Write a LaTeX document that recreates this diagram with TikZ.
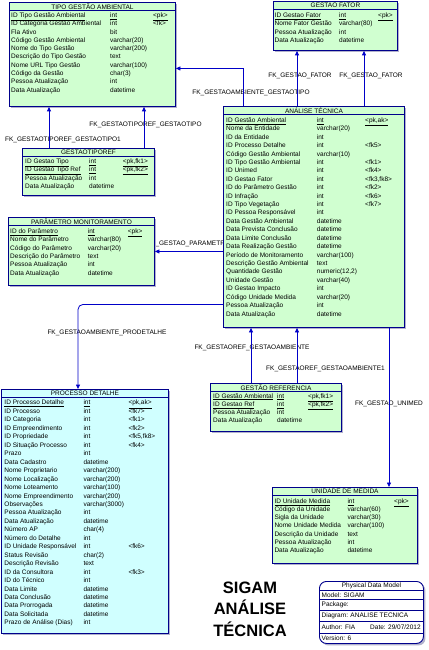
\documentclass[tikz,border=0pt]{standalone}
\usepackage{fontspec}
\setmainfont{Liberation Sans}
\usepackage{tikz}
\usetikzlibrary{arrows.meta,calc,positioning,shadows}
\definecolor{tblgreen}{RGB}{208,255,208}
\definecolor{tblcyan}{RGB}{208,255,255}
\definecolor{tblborder}{RGB}{0,0,140}
\definecolor{tblshadow}{RGB}{178,178,204}
\definecolor{fkline}{RGB}{0,0,200}
\pgfdeclarelayer{paper}
\pgfdeclarelayer{bg}
\pgfsetlayers{paper,bg,main}
\tikzset{
  tblbox/.style={draw=tblborder,line width=0.9pt,fill=#1,inner sep=0pt,
    drop shadow={shadow xshift=2pt,shadow yshift=-2pt,fill=tblshadow,opacity=1}},
  tbltitle/.style={font=\fontsize{6.5}{7}\selectfont,inner sep=0pt},
  tblrow/.style={font=\fontsize{6.5}{7}\selectfont,anchor=west,inner sep=0pt,
    text height=4.7pt,text depth=1.4pt},
  fk/.style={draw=fkline,line width=0.8pt,-{Triangle[length=4.5pt,width=4pt]}},
  fklabel/.style={font=\fontsize{6.5}{7}\selectfont,inner sep=0pt},
  infobox/.style={draw=tblborder,line width=0.9pt,fill=white,rounded corners=7pt,
    drop shadow={shadow xshift=2pt,shadow yshift=-2pt,fill=tblshadow,opacity=1}},
  infotext/.style={font=\fontsize{6.5}{7}\selectfont,inner sep=0pt,anchor=west},
}
% table frame: name, x, y, width, height, title, fill
\newcommand{\erdtable}[7]{%
  \node[tblbox=#7,minimum width=#4pt,minimum height=#5pt,anchor=north west] (#1) at (#2,#3) {};%
  \draw[tblborder,line width=0.7pt] ([yshift=-8.5pt]#1.north west) -- ([yshift=-8.5pt]#1.north east);%
  \node[tbltitle] (#1-title) at ([yshift=-4.5pt]#1.north) {#6};%
}
% columns of the next rows: table, name x, type x, key x, first row y, row step
\newcommand{\erdcols}[6]{\def\erdT{#1}\def\erdA{#2}\def\erdB{#3}\def\erdC{#4}\def\erdTop{#5}\def\erdStep{#6}}
\newcommand{\erdrow}[4]{%
  \pgfmathsetmacro{\erdY}{\erdTop+#1*\erdStep}%
  \node[tblrow] (\erdT-#1-n) at (\erdA,\erdY) {#2};%
  \node[tblrow] (\erdT-#1-t) at (\erdB,\erdY) {#3};%
  \node[tblrow] (\erdT-#1-k) at (\erdC,\erdY) {#4};%
}
\newcommand{\erdpk}[4]{\erdrow{#1}{\underline{#2}}{\underline{#3}}{\underline{#4}}}

\begin{document}
\begin{tikzpicture}[x=1pt,y=-1pt]
  \begin{pgfonlayer}{paper}
    \fill[white] (0,0) rectangle (428,650);
  \end{pgfonlayer}
  \useasboundingbox (0,0) rectangle (428,650);

  \erdtable{tipo}{9}{2}{166}{104}{TIPO GESTÃO AMBIENTAL}{tblgreen}
  \erdcols{tipo}{11}{110}{153}{15.7}{8.33}
  \erdpk{0}{ID Tipo Gestão Ambiental}{int}{<pk>}
  \erdrow{1}{ID Categoria Gestão Ambiental}{int}{<fk>}
  \erdrow{2}{Fla Ativo}{bit}{}
  \erdrow{3}{Código Gestão Ambiental}{varchar(20)}{}
  \erdrow{4}{Nome do Tipo Gestão}{varchar(200)}{}
  \erdrow{5}{Descrição do Tipo Gestão}{text}{}
  \erdrow{6}{Nome URL Tipo Gestão}{varchar(100)}{}
  \erdrow{7}{Código da Gestão}{char(3)}{}
  \erdrow{8}{Pessoa Atualização}{int}{}
  \erdrow{9}{Data Atualização}{datetime}{}

  \erdtable{fator}{273}{1}{124}{49}{GESTAO FATOR}{tblgreen}
  \erdcols{fator}{274.5}{339}{378}{15.7}{8.5}
  \erdpk{0}{ID Gestao Fator}{int}{<pk>}
  \erdrow{1}{Nome Fator Gestão}{varchar(80)}{}
  \erdrow{2}{Pessoa Atualização}{int}{}
  \erdrow{3}{Data Atualização}{datetime}{}

  \erdtable{analise}{223}{106}{181}{221}{ANÁLISE TÉCNICA}{tblgreen}
  \erdcols{analise}{226}{316.7}{365}{120.7}{8.42}
  \erdpk{0}{ID Gestão Ambiental}{int}{<pk,ak>}
  \erdrow{1}{Nome da Entidade}{varchar(20)}{}
  \erdrow{2}{ID da Entidade}{int}{}
  \erdrow{3}{ID Processo Detalhe}{int}{<fk5>}
  \erdrow{4}{Código Gestão Ambiental}{varchar(10)}{}
  \erdrow{5}{ID Tipo Gestão Ambiental}{int}{<fk1>}
  \erdrow{6}{ID Unimed}{int}{<fk4>}
  \erdrow{7}{ID Gestao Fator}{int}{<fk3,fk8>}
  \erdrow{8}{ID do Parâmetro Gestão}{int}{<fk2>}
  \erdrow{9}{ID Infração}{int}{<fk6>}
  \erdrow{10}{ID Tipo Vegetação}{int}{<fk7>}
  \erdrow{11}{ID Pessoa Responsável}{int}{}
  \erdrow{12}{Data Gestão Ambiental}{datetime}{}
  \erdrow{13}{Data Prevista Conclusão}{datetime}{}
  \erdrow{14}{Data Limite Conclusão}{datetime}{}
  \erdrow{15}{Data Realização Gestão}{datetime}{}
  \erdrow{16}{Período de Monitoramento}{varchar(100)}{}
  \erdrow{17}{Descrição Gestão Ambiental}{text}{}
  \erdrow{18}{Quantidade Gestão}{numeric(12,2)}{}
  \erdrow{19}{Unidade Gestão}{varchar(40)}{}
  \erdrow{20}{ID Gestao Impacto}{int}{}
  \erdrow{21}{Código Unidade Medida}{varchar(20)}{}
  \erdrow{22}{Pessoa Atualização}{int}{}
  \erdrow{23}{Data Atualização}{datetime}{}

  \erdtable{tiporef}{22}{148}{132}{47}{GESTAOTIPOREF}{tblgreen}
  \erdcols{tiporef}{25}{89}{122.7}{161.7}{8.5}
  \erdpk{0}{ID Gestao Tipo}{int}{<pk,fk1>}
  \erdpk{1}{ID Gestao Tipo Ref}{int}{<pk,fk2>}
  \erdrow{2}{Pessoa Atualização}{int}{}
  \erdrow{3}{Data Atualização}{datetime}{}

  \erdtable{param}{8}{217}{146}{68}{PARÂMETRO MONITORAMENTO}{tblgreen}
  \erdcols{param}{10}{87.7}{127.7}{231.7}{8.33}
  \erdpk{0}{ID do Parâmetro}{int}{<pk>}
  \erdrow{1}{Nome do Parâmetro}{varchar(80)}{}
  \erdrow{2}{Código do Parâmetro}{varchar(20)}{}
  \erdrow{3}{Descrição do Parâmetro}{text}{}
  \erdrow{4}{Pessoa Atualização}{int}{}
  \erdrow{5}{Data Atualização}{datetime}{}

  \erdtable{procdet}{1}{389}{167}{244}{PROCESSO DETALHE}{tblcyan}
  \erdcols{procdet}{4.3}{83.3}{128.3}{403.3}{8.46}
  \erdpk{0}{ID Processo Detalhe}{int}{<pk,ak>}
  \erdrow{1}{ID Processo}{int}{<fk7>}
  \erdrow{2}{ID Categoria}{int}{<fk1>}
  \erdrow{3}{ID Empreendimento}{int}{<fk2>}
  \erdrow{4}{ID Propriedade}{int}{<fk5,fk8>}
  \erdrow{5}{ID Situação Processo}{int}{<fk4>}
  \erdrow{6}{Prazo}{int}{}
  \erdrow{7}{Data Cadastro}{datetime}{}
  \erdrow{8}{Nome Proprietario}{varchar(200)}{}
  \erdrow{9}{Nome Localização}{varchar(200)}{}
  \erdrow{10}{Nome Loteamento}{varchar(100)}{}
  \erdrow{11}{Nome Empreendimento}{varchar(200)}{}
  \erdrow{12}{Observações}{varchar(3000)}{}
  \erdrow{13}{Pessoa Atualização}{int}{}
  \erdrow{14}{Data Atualização}{datetime}{}
  \erdrow{15}{Número AP}{char(4)}{}
  \erdrow{16}{Número do Detalhe}{int}{}
  \erdrow{17}{ID Unidade Responsável}{int}{<fk6>}
  \erdrow{18}{Status Revisão}{char(2)}{}
  \erdrow{19}{Descrição Revisão}{text}{}
  \erdrow{20}{ID da Consultora}{int}{<fk3>}
  \erdrow{21}{ID do Técnico}{int}{}
  \erdrow{22}{Data Limite}{datetime}{}
  \erdrow{23}{Data Conclusão}{datetime}{}
  \erdrow{24}{Data Prorrogada}{datetime}{}
  \erdrow{25}{Data Solicitada}{datetime}{}
  \erdrow{26}{Prazo de Análise (Dias)}{int}{}

  \erdtable{gref}{210}{383}{131}{48}{GESTÃO REFERENCIA}{tblgreen}
  \erdcols{gref}{213}{277}{308}{396.5}{8.2}
  \erdpk{0}{ID Gestão Ambiental}{int}{<pk,fk1>}
  \erdpk{1}{ID Gestao Ref}{int}{<pk,fk2>}
  \erdrow{2}{Pessoa Atualização}{int}{}
  \erdrow{3}{Data Atualização}{datetime}{}

  \erdtable{unimed}{272}{487}{145}{76}{UNIDADE DE MEDIDA}{tblgreen}
  \erdcols{unimed}{274.3}{347.3}{394}{501.7}{8.2}
  \erdpk{0}{ID Unidade Medida}{int}{<pk>}
  \erdrow{1}{Código da Unidade}{varchar(60)}{}
  \erdrow{2}{Sigla da Unidade}{varchar(30)}{}
  \erdrow{3}{Nome Unidade Medida}{varchar(100)}{}
  \erdrow{4}{Descrição da Unidade}{text}{}
  \erdrow{5}{Pessoa Atualização}{int}{}
  \erdrow{6}{Data Atualização}{datetime}{}

  % references
  \draw[fk] ([xshift=20pt]analise.north west) |- ([yshift=-14pt]tipo.east);
  \draw[fk] ([xshift=74pt]analise.north west) -- ([xshift=24pt]fator.south west);
  \draw[fk] ([xshift=141pt]analise.north west) -- ([xshift=91pt]fator.south west);
  \draw[fk] ([xshift=27pt]tiporef.north west) -- ([xshift=40pt]tipo.south west);
  \draw[fk] ([xshift=122pt]tiporef.north west) -- ([xshift=135pt]tipo.south west);
  \draw[fk] (analise.west |- param.east) -- (param.east);
  \draw[fk,rounded corners=5pt] ([yshift=-87.5pt]analise.west) -| ([xshift=77pt]procdet.north west);
  \draw[fk] ([xshift=41pt]gref.north west) -- ([xshift=28pt]analise.south west);
  \draw[fk] ([xshift=87pt]gref.north west) -- ([xshift=74pt]analise.south west);
  \draw[fk] ([xshift=166pt]analise.south west) -- ([xshift=117pt]unimed.north west);

  \begin{pgfonlayer}{bg}
    \node[fklabel] (lbl-gtipo) at (251,93) {FK\_GESTAOAMBIENTE\_GESTAOTIPO};
    \node[fklabel] (lbl-fator1) at (300,76) {FK\_GESTAO\_FATOR};
    \node[fklabel] (lbl-fator2) at (371,76) {FK\_GESTAO\_FATOR};
    \node[fklabel] (lbl-tiporef1) at (63,139.5) {FK\_GESTAOTIPOREF\_GESTAOTIPO1};
    \node[fklabel] (lbl-tiporef) at (145.5,125) {FK\_GESTAOTIPOREF\_GESTAOTIPO};
    \node[fklabel,anchor=west] (lbl-param) at (147,244) {FK\_GESTAO\_PARAMETRO};
    \node[fklabel] (lbl-procdet) at (107,332.5) {FK\_GESTAOAMBIENTE\_PRODETALHE};
    \node[fklabel] (lbl-gref) at (252,347.5) {FK\_GESTAOREF\_GESTAOAMBIENTE};
    \node[fklabel] (lbl-gref1) at (325.5,368.5) {FK\_GESTAOREF\_GESTAOAMBIENTE1};
    \node[fklabel] (lbl-unimed) at (389,403.5) {FK\_GESTAO\_UNIMED};
  \end{pgfonlayer}

  \node[font=\fontsize{16.5}{21.5}\selectfont\bfseries,align=center] (diagtitle) at (250,609) {SIGAM\\ANÁLISE\\TÉCNICA};

  \node[infobox,minimum width=104pt,minimum height=62pt,anchor=north west] (pdm) at (319,581) {};
  \foreach \dy in {9,18.3,29.7,40.7,52}
    \draw[tblborder,line width=0.7pt] ([yshift=-\dy pt]pdm.north west) -- ([yshift=-\dy pt]pdm.north east);
  \node[infotext,anchor=center] (pdm-head) at ([yshift=-4.6pt]pdm.north) {Physical Data Model};
  \node[infotext] (pdm-model) at ([xshift=2.5pt,yshift=-13.7pt]pdm.north west) {Model: SIGAM};
  \node[infotext] (pdm-pkg) at ([xshift=2.5pt,yshift=-24pt]pdm.north west) {Package:};
  \node[infotext] (pdm-diag) at ([xshift=2.5pt,yshift=-35.2pt]pdm.north west) {Diagram: ANALISE TECNICA};
  \node[infotext] (pdm-author) at ([xshift=2.5pt,yshift=-46.4pt]pdm.north west) {Author: FIA};
  \node[infotext] (pdm-date) at ([xshift=51pt,yshift=-46.4pt]pdm.north west) {Date: 29/07/2012};
  \node[infotext] (pdm-ver) at ([xshift=2.5pt,yshift=-57.2pt]pdm.north west) {Version: 6};
\end{tikzpicture}
\end{document}
